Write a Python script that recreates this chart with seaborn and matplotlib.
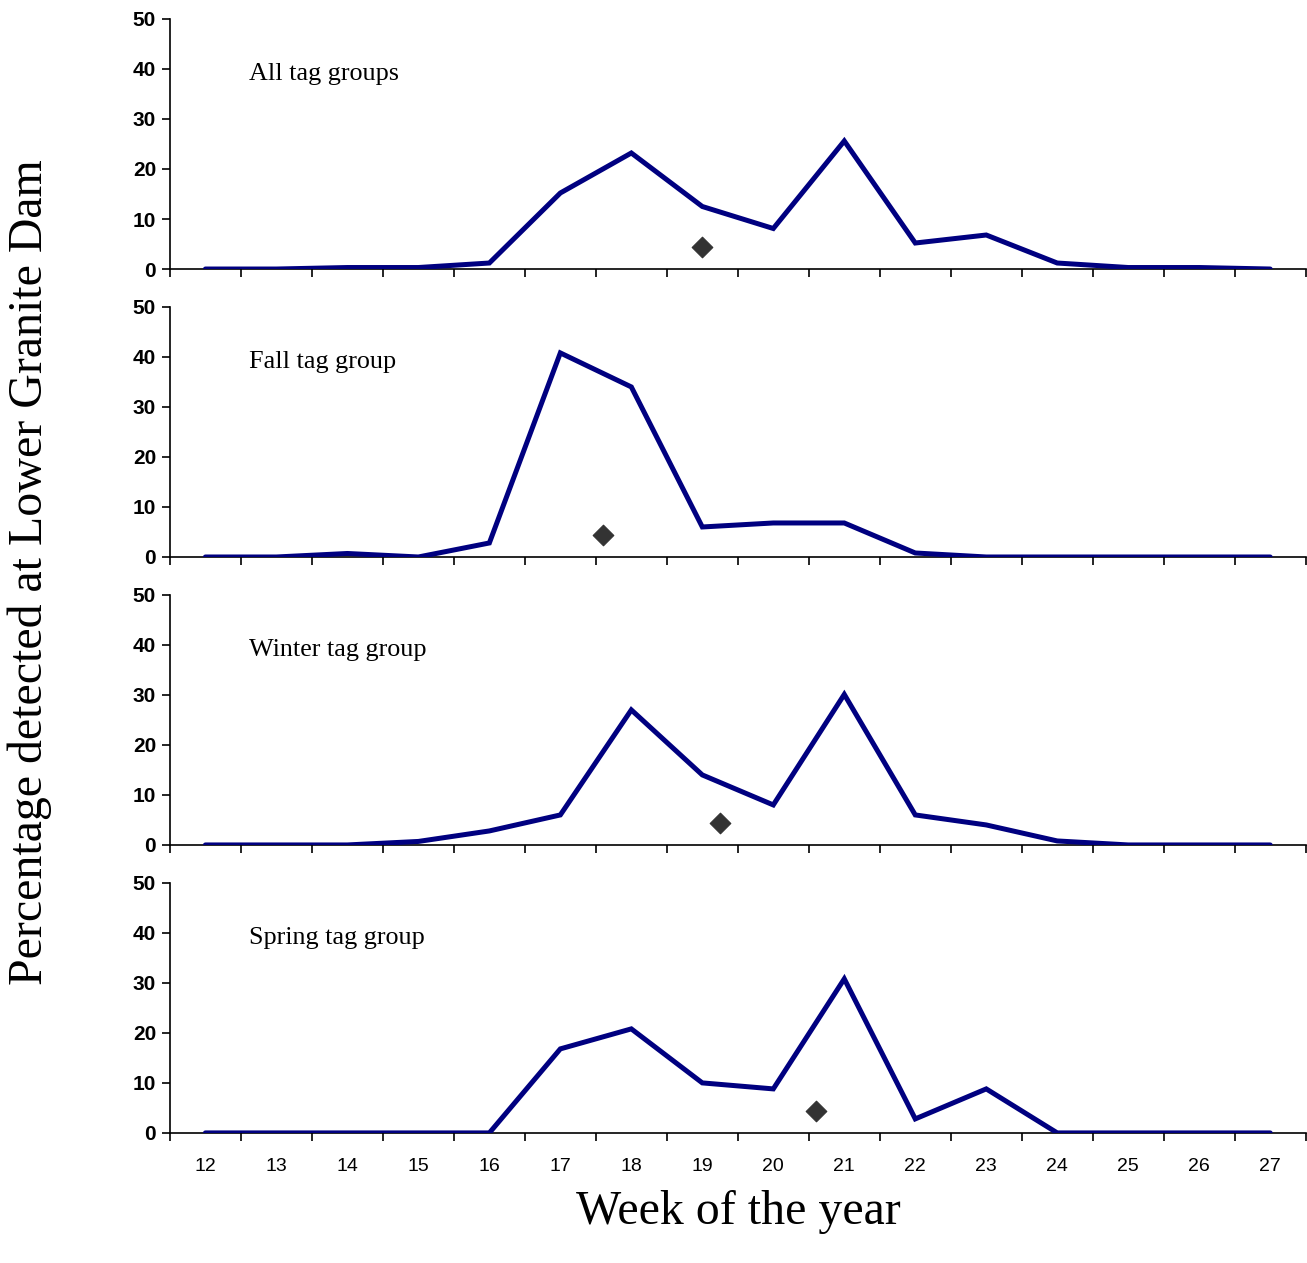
import numpy as np
import pandas as pd
import seaborn as sns
import matplotlib.pyplot as plt

# Weeks on the x axis
weeks = list(range(12, 28))

# Percentage detected per week for each tag group
all_groups = [0, 0, 0.3, 0.3, 1.2, 15.2, 23.2, 12.5, 8.1, 25.6, 5.2, 6.8, 1.2, 0.3, 0.3, 0]
fall_group = [0, 0, 0.7, 0, 2.8, 40.8, 34.0, 6.0, 6.8, 6.8, 0.8, 0, 0, 0, 0, 0]
winter_group = [0, 0, 0, 0.7, 2.8, 6.0, 27.0, 14.0, 8.0, 30.1, 6.0, 4.0, 0.8, 0, 0, 0]
spring_group = [0, 0, 0, 0, 0, 16.8, 20.8, 10.0, 8.8, 30.8, 2.8, 8.8, 0, 0, 0, 0]

# Median passage week (diamond) per group
median_week = [19.0, 17.6, 19.25, 20.6]
median_y = [4.4, 4.4, 4.4, 4.4]

panel_titles = ["All tag groups", "Fall tag group", "Winter tag group", "Spring tag group"]
series = [all_groups, fall_group, winter_group, spring_group]

sns.set_style("ticks")
plt.rcParams['font.family'] = ['Liberation Sans', 'DejaVu Sans']
for key in ["text.color", "axes.edgecolor", "axes.labelcolor", "xtick.color", "ytick.color"]:
    plt.rcParams[key] = "black"

fig = plt.figure(figsize=(13.07, 12.63), dpi=100)

bottoms = [0.787, 0.559, 0.331, 0.103]
for i in range(4):
    ax = fig.add_axes([0.130, bottoms[i], 0.869, 0.198])
    df = pd.DataFrame({"week": weeks, "pct": series[i]})
    sns.lineplot(data=df, x="week", y="pct", ax=ax, color="#000080",
                 linewidth=3.6, solid_joinstyle="miter", solid_capstyle="round")
    sns.scatterplot(x=[median_week[i]], y=[median_y[i]], ax=ax, marker="D",
                    s=110, color="#333333", edgecolor="#333333", zorder=5)

    ax.set_xlim(11.5, 27.5)
    ax.set_ylim(0, 50)
    ax.set_yticks([0, 10, 20, 30, 40, 50])
    ax.set_xticks(weeks)
    ax.set_xticks(np.arange(11.5, 28, 1), minor=True)
    ax.tick_params(axis="x", which="major", length=0, pad=18, labelsize=14)
    ax.tick_params(axis="x", which="minor", length=6, width=1.2, direction="out")
    ax.tick_params(axis="y", length=6, width=1.2, direction="out", labelsize=15, pad=4)
    for lab in ax.get_yticklabels():
        lab.set_fontweight("bold")
    if i < 3:
        ax.set_xticklabels([])
    ax.set_xlabel("")
    ax.set_ylabel("")
    for side in ["top", "right"]:
        ax.spines[side].set_visible(False)
    ax.spines["left"].set_linewidth(1.2)
    ax.spines["bottom"].set_linewidth(1.2)
    ax.spines["bottom"].set_zorder(1)
    ax.text(12.61, 37.8, panel_titles[i], family=["Liberation Serif"],
            fontsize=18.8, va="baseline")
    ax.patch.set_alpha(0)

fig.text(0.023, 0.547, "Percentage detected at Lower Granite Dam", rotation=90,
         va="center", ha="center", family=["Liberation Serif"], fontsize=34.5)
fig.text(0.565, 0.040, "Week of the year", va="center", ha="center",
         family=["Liberation Serif"], fontsize=34.5)

fig.savefig("out.png", dpi=100)
